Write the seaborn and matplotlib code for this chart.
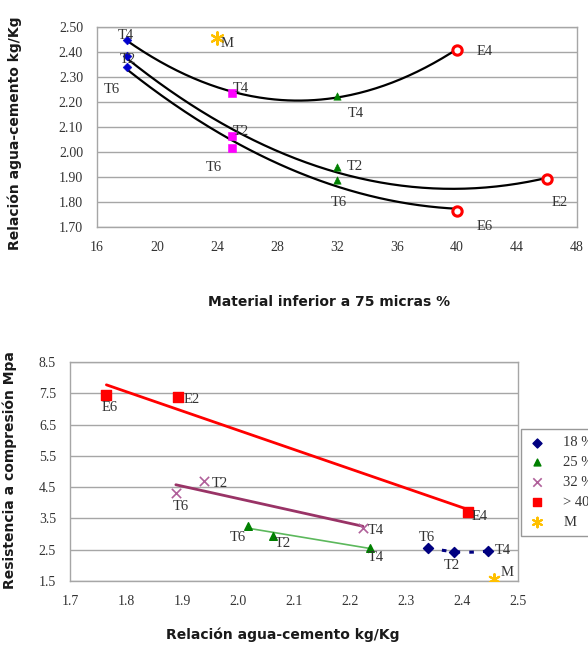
import numpy as np
import pandas as pd
import matplotlib
matplotlib.use("Agg")
import matplotlib.pyplot as plt
import seaborn as sns

# ---------------- data ----------------
tests = ["T6", "T2", "T4"]
fines_18 = [18, 18, 18]
fines_25 = [25, 25, 25]
fines_32 = [32, 32, 32]
ratio_18 = [2.34, 2.385, 2.447]
ratio_25 = [2.018, 2.063, 2.236]
ratio_32 = [1.889, 1.94, 2.223]
labels_40 = ["E6", "E2", "E4"]
fines_40 = [40, 46, 40]
ratio_40 = [1.765, 1.893, 2.41]
fines_M = [24]
ratio_M = [2.458]

strength_18 = [2.57, 2.44, 2.46]
strength_25 = [3.27, 2.95, 2.56]
strength_32 = [4.30, 4.70, 3.20]
strength_40 = [7.45, 7.38, 3.71]
strength_M = [1.56]

legend_labels = ["18 %", "25 %", "32 %", "> 40 %", "M"]

# ---------------- style ----------------
sns.set_style("white")
plt.rcParams["font.family"] = ["Liberation Serif", "DejaVu Serif"]
GRID = "#a6a6a6"
TXT = "#333333"
LBL = dict(family=["DejaVu Sans"], weight="bold", size=10, color="#1a1a1a")

W, H = 588, 648
fig = plt.figure(figsize=(W / 100, H / 100), dpi=100)


def px_axes(l, t, r, b):
    return fig.add_axes([l / W, 1 - b / H, (r - l) / W, (b - t) / H])


def style_axes(ax):
    for s in ax.spines.values():
        s.set_color(GRID)
        s.set_linewidth(1.0)
    ax.yaxis.grid(True, color=GRID, linewidth=1.0)
    ax.xaxis.grid(False)
    ax.set_axisbelow(True)
    ax.tick_params(direction="out", length=4, width=1, color=GRID,
                   labelsize=10, labelcolor=TXT, pad=6)
    ax.set_xlabel("")
    ax.set_ylabel("")


# ================= top chart =================
ax1 = px_axes(97, 27, 577, 227)

# trend curves (2nd order) per test
t4_x = [fines_18[2], fines_25[2], fines_32[2], fines_40[2]]
t4_y = [ratio_18[2], ratio_25[2], ratio_32[2], ratio_40[2]]
t2_x = [fines_18[1], fines_25[1], fines_32[1], fines_40[1]]
t2_y = [ratio_18[1], ratio_25[1], ratio_32[1], ratio_40[1]]
t6_x = [fines_18[0], fines_25[0], fines_32[0], fines_40[0]]
t6_y = [ratio_18[0], ratio_25[0], ratio_32[0], ratio_40[0]]
for xs, ys in [(t4_x, t4_y), (t2_x, t2_y), (t6_x, t6_y)]:
    c = np.polyfit(xs, ys, 2)
    xx = np.linspace(min(xs), max(xs), 200)
    sns.lineplot(x=xx, y=np.polyval(c, xx), ax=ax1, color="black",
                 linewidth=1.6, sort=False, zorder=2)

sns.scatterplot(x=fines_18, y=ratio_18, ax=ax1, marker="D", color="#0000cc",
                s=20, edgecolor="#0000cc", zorder=3)
sns.scatterplot(x=fines_25, y=ratio_25, ax=ax1, marker="s", color="#ff00ff",
                s=28, edgecolor="#ff00ff", zorder=3)
sns.scatterplot(x=fines_32, y=ratio_32, ax=ax1, marker="^", color="#008000",
                s=28, edgecolor="#008000", zorder=3)
sns.scatterplot(x=fines_40, y=ratio_40, ax=ax1, marker="o", color="white",
                s=45, edgecolor="#ff0000", linewidth=2.2, zorder=3)
sns.scatterplot(x=fines_M, y=ratio_M, ax=ax1, marker=(6, 2, 0), color="#ffc000",
                s=80, linewidth=1.6, zorder=3)

top_lbls = [
    ("T4", 17.93, 2.468), ("T2", 18.07, 2.370), ("T6", 17.0, 2.252),
    ("T4", 25.6, 2.256), ("T2", 25.6, 2.084), ("T6", 23.8, 1.94),
    ("T4", 33.27, 2.156), ("T2", 33.2, 1.944), ("T6", 32.13, 1.80),
    ("E4", 41.87, 2.404), ("E2", 46.87, 1.80), ("E6", 41.87, 1.704),
    ("M", 24.67, 2.436),
]
for t, x, y in top_lbls:
    ax1.text(x, y, t, ha="center", va="center", fontsize=10.5, color=TXT, zorder=4)

ax1.set_xlim(16, 48)
ax1.set_ylim(1.70, 2.50)
ax1.set_xticks(np.arange(16, 49, 4))
ax1.set_yticks(np.arange(1.70, 2.501, 0.10))
ax1.set_yticklabels([f"{v:.2f}" for v in np.arange(1.70, 2.501, 0.10)])
style_axes(ax1)

fig.text(329 / W, 1 - 302 / H, "Material inferior a 75 micras %",
         ha="center", va="center", **LBL)
fig.text(15 / W, 1 - 133 / H, "Relación agua-cemento kg/Kg",
         ha="center", va="center", rotation=90, **LBL)

# ================= bottom chart =================
ax2 = px_axes(70, 362, 518, 581)

# linear trends
for xs, ys, col, lw in [(ratio_40, strength_40, "#ff0000", 2.0),
                        (ratio_32, strength_32, "#993366", 2.0),
                        (ratio_25, strength_25, "#5cb85c", 1.2)]:
    c = np.polyfit(xs, ys, 1)
    xx = np.array([min(xs), max(xs)])
    sns.lineplot(x=xx, y=np.polyval(c, xx), ax=ax2, color=col, linewidth=lw,
                 zorder=2)
# 18 % dotted trend
c18 = np.polyfit(ratio_18, strength_18, 2)
xx18 = np.linspace(min(ratio_18), max(ratio_18), 100)
ax2.plot(xx18, np.polyval(c18, xx18), color="#000080", linewidth=2.2,
         linestyle=(0, (1.5, 3)), zorder=2)

h1 = ax2.scatter(ratio_18, strength_18, marker="D", color="#000080", s=26, zorder=3)
h2 = ax2.scatter(ratio_25, strength_25, marker="^", color="#008000", s=30, zorder=3)
h3 = ax2.scatter(ratio_32, strength_32, marker="x", color="#b0609a", s=45,
                 linewidths=1.2, zorder=3)
h4 = ax2.scatter(ratio_40, strength_40, marker="s", color="#ff0000", s=45, zorder=3)
h5 = ax2.scatter(ratio_M, strength_M, marker=(6, 2, 0), color="#ffc000", s=60,
                 linewidths=1.5, zorder=3)

bot_lbls = [
    ("E6", 1.771, 7.06), ("E2", 1.918, 7.29), ("E4", 2.432, 3.55),
    ("T6", 1.898, 3.87), ("T2", 1.968, 4.63), ("T4", 2.246, 3.13),
    ("T6", 1.999, 2.88), ("T2", 2.08, 2.69), ("T4", 2.246, 2.24),
    ("T6", 2.338, 2.88), ("T2", 2.382, 2.00), ("T4", 2.473, 2.49),
    ("M", 2.48, 1.76),
]
for t, x, y in bot_lbls:
    ax2.text(x, y, t, ha="center", va="center", fontsize=10.5, color=TXT, zorder=4)

ax2.set_xlim(1.7, 2.5)
ax2.set_ylim(1.5, 8.5)
ax2.set_xticks(np.arange(1.7, 2.501, 0.1))
ax2.set_xticklabels([f"{v:.1f}" for v in np.arange(1.7, 2.501, 0.1)])
ax2.set_yticks(np.arange(1.5, 8.51, 1.0))
ax2.set_yticklabels([f"{v:.1f}" for v in np.arange(1.5, 8.51, 1.0)])
style_axes(ax2)

fig.text(283 / W, 1 - 635 / H, "Relación agua-cemento kg/Kg",
         ha="center", va="center", **LBL)
fig.text(10 / W, 1 - 470 / H, "Resistencia a compresión Mpa",
         ha="center", va="center", rotation=90, **LBL)

leg = fig.legend([h1, h2, h3, h4, h5], legend_labels,
                 loc="upper left", bbox_to_anchor=(521 / W, 1 - 429 / H),
                 frameon=True, fancybox=False, fontsize=10.5,
                 labelspacing=0.45, handletextpad=1.2, handlelength=1.2,
                 borderpad=0.5, markerscale=0.9, borderaxespad=0)
leg.get_frame().set_edgecolor("#7f7f7f")
leg.get_frame().set_linewidth(1.0)
for t in leg.get_texts():
    t.set_color(TXT)

fig.savefig("out.png", dpi=100)
